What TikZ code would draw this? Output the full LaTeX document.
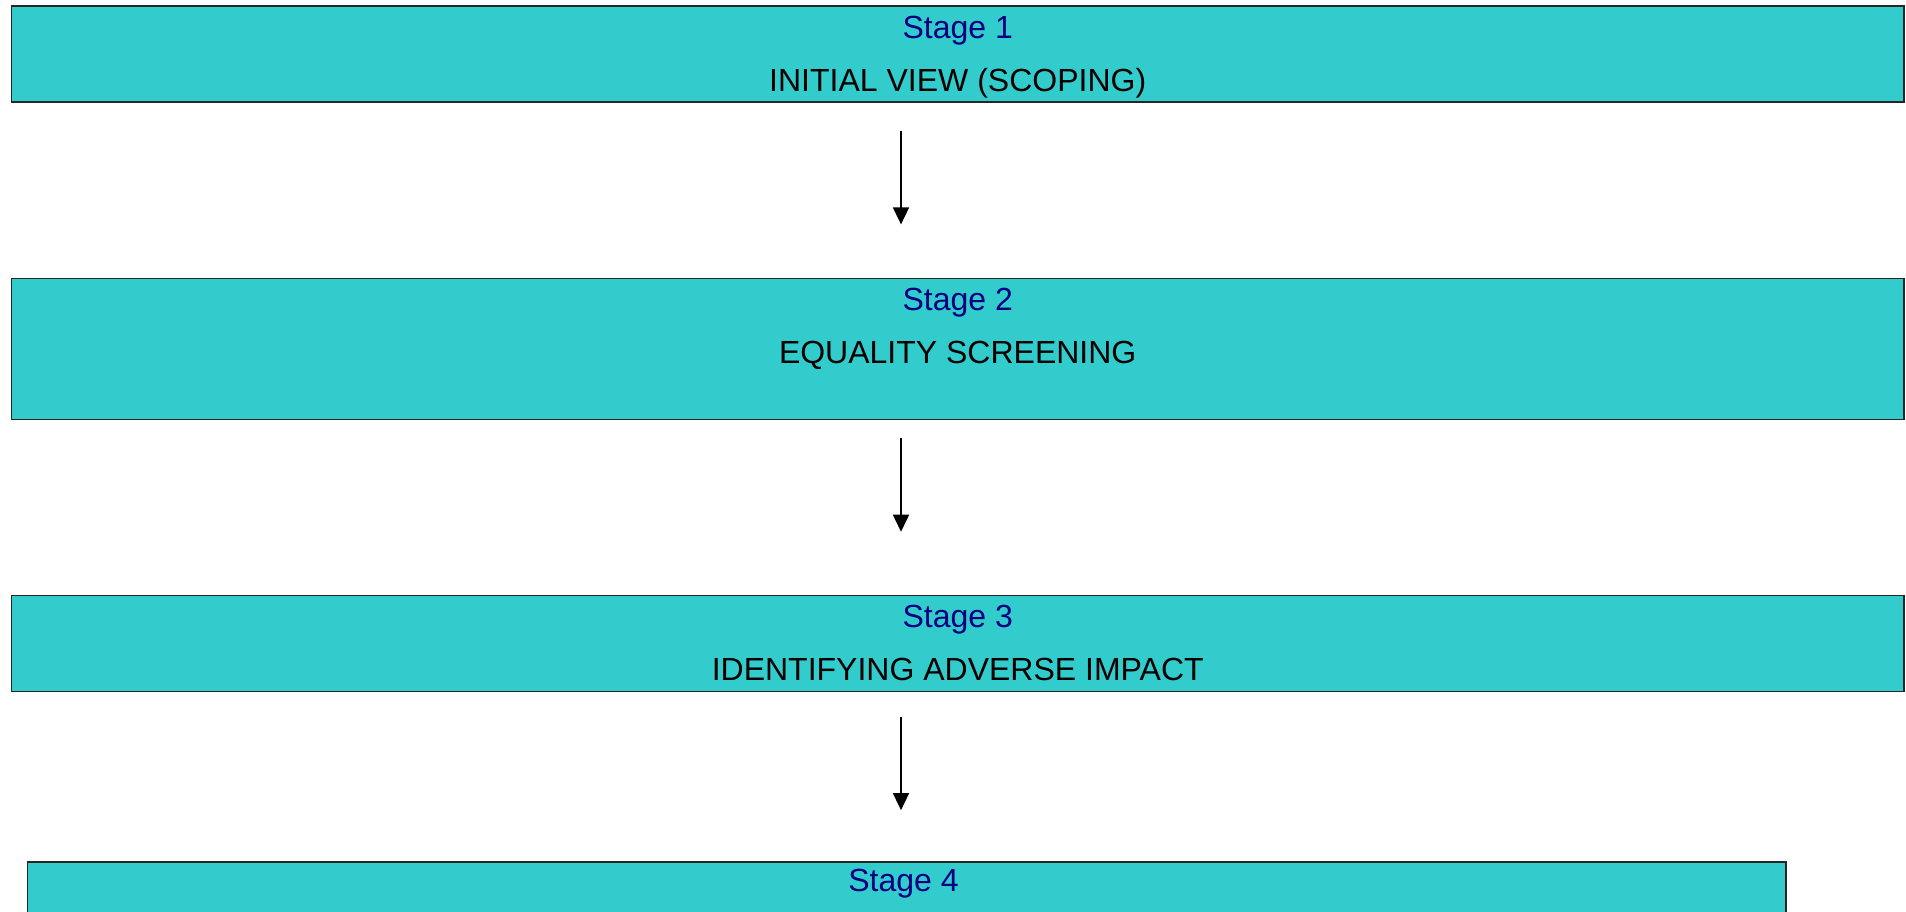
\documentclass[tikz,border=0pt]{standalone}
\usepackage{fontspec}
\setmainfont{Liberation Sans}
\usetikzlibrary{arrows.meta, positioning}
\usepackage{xcolor}
\definecolor{stagefill}{HTML}{33CCCC}
\definecolor{stageblue}{HTML}{000080}

\begin{document}
\begin{tikzpicture}[x=0.75pt,y=-0.75pt, >={Triangle[length=12.75pt,width=12pt]}]
    \tikzstyle{stage box}=[rectangle, draw=black!85, line width=1pt, fill=stagefill, inner sep=0pt, minimum width=1419.4pt]
    \tikzstyle{stage title}=[anchor=base, text=stageblue, font=\fontsize{24}{28}\selectfont]
    \tikzstyle{stage name}=[anchor=base, text=black, font=\fontsize{24}{28}\selectfont]
    \tikzstyle{flow}=[->, line width=1.2pt]

    \useasboundingbox (0,0) rectangle (1906,912);

    \node[stage box, minimum height=72pt] (S-1) at (957.7,54) {};
    \node[stage box, minimum height=105.75pt] (S-2) at (957.7,348.9) {};
    \node[stage box, minimum height=72pt] (S-3) at (957.7,643.6) {};
    \node[stage box, minimum height=72pt, minimum width=1318.9pt] (S-4) at (906.8,910) {};

    \node[stage title] (T-1) at ([yshift=-24.75pt]S-1.north) {Stage 1};
    \node[stage name] (N-1) at ([yshift=-64.5pt]S-1.north) {INITIAL VIEW (SCOPING)};
    \node[stage title] (T-2) at ([yshift=-24.75pt]S-2.north) {Stage 2};
    \node[stage name] (N-2) at ([yshift=-64.5pt]S-2.north) {EQUALITY SCREENING};
    \node[stage title] (T-3) at ([yshift=-24.75pt]S-3.north) {Stage 3};
    \node[stage name] (N-3) at ([yshift=-64.5pt]S-3.north) {IDENTIFYING ADVERSE IMPACT};
    \node[stage title] (T-4) at ([xshift=-2.5pt,yshift=-22.5pt]S-4.north) {Stage 4};

    \coordinate (A) at (901,0);
    \foreach \a/\b/\s/\e in {1/2/21/40, 2/3/13.7/47.4, 3/4/18.2/38.4}{
        \draw[flow, shorten <=\s pt, shorten >=\e pt] (S-\a.south -| A) -- (S-\b.north -| A);
        }

\end{tikzpicture}
\end{document}
